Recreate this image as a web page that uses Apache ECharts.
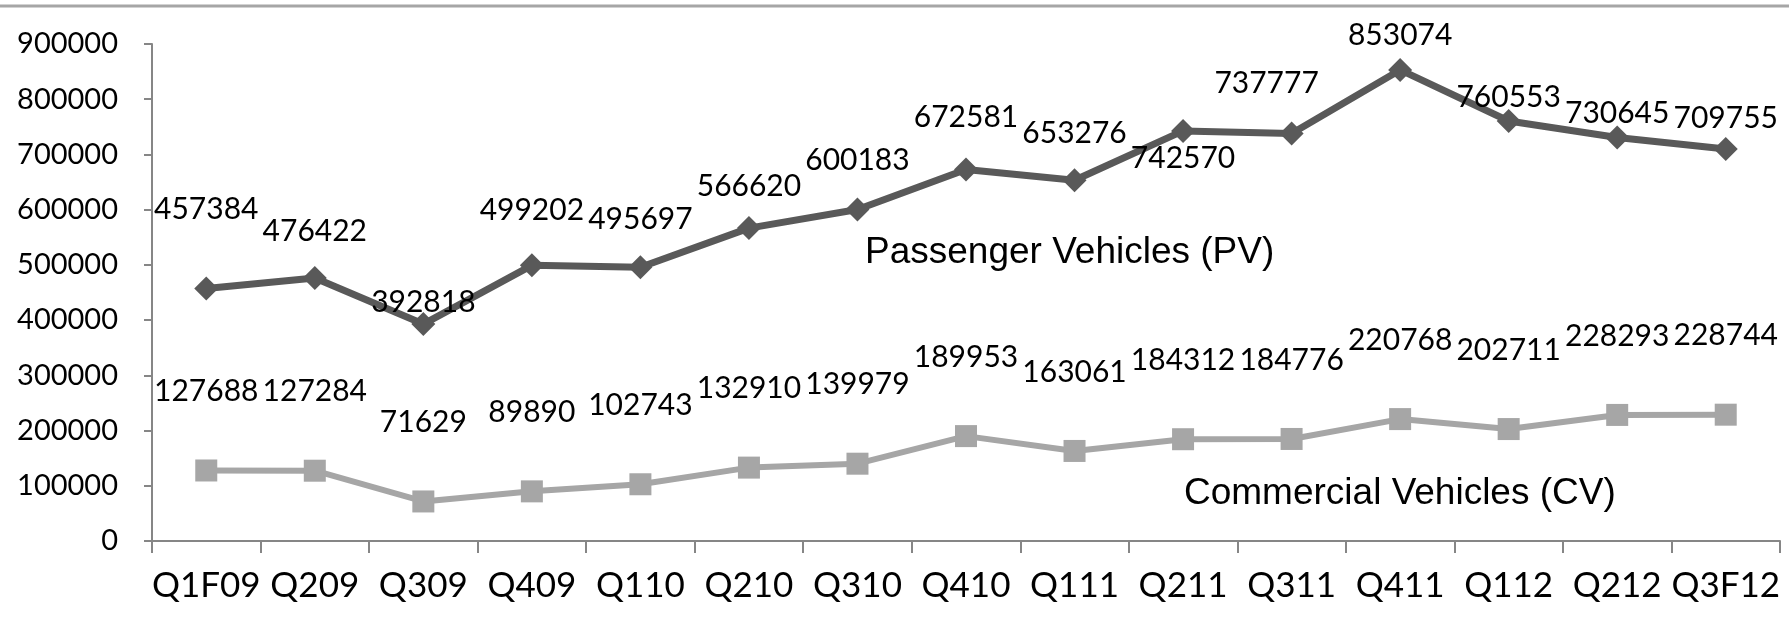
<!DOCTYPE html>
<html>
<head>
<meta charset="utf-8">
<script src="https://cdn.jsdelivr.net/npm/echarts@6/dist/echarts.min.js"></script>
<style>
  html, body { margin: 0; padding: 0; background: #fff; }
  #chart { width: 1789px; height: 625px; }
</style>
</head>
<body>
<div id="chart"></div>
<script>
// quarters on the x axis
const quarters = ['Q1F09', 'Q209', 'Q309', 'Q409', 'Q110', 'Q210', 'Q310', 'Q410',
  'Q111', 'Q211', 'Q311', 'Q411', 'Q112', 'Q212', 'Q3F12'];

// Passenger Vehicles (PV)
const pvSales = [457384, 476422, 392818, 499202, 495697, 566620, 600183, 672581,
  653276, 742570, 737777, 853074, 760553, 730645, 709755];

// Commercial Vehicles (CV)
const cvSales = [127688, 127284, 71629, 89890, 102743, 132910, 139979, 189953,
  163061, 184312, 184776, 220768, 202711, 228293, 228744];

const yTicks = [0, 100000, 200000, 300000, 400000, 500000, 600000, 700000, 800000, 900000];

const FONT = 'Lato, "Open Sans", sans-serif';

// label nudges, the PV labels were hand placed in the original
const pvLabelShift = [[0, -79], [0, -47], [0, -22], [0, -55], [0, -48], [0, -42], [0, -49],
  [0, -52], [0, -47], [0, 27], [-25, -50], [0, -35], [0, -24], [0, -24], [0, -31]];

const chart = echarts.init(document.getElementById('chart'));

const labelStyle = {
  show: true,
  position: 'inside',
  color: '#000',
  fontFamily: FONT,
  fontSize: 30
};

chart.setOption({
  animation: false,
  grid: { left: 152, right: 9, top: 44, bottom: 84, outerBoundsMode: 'none' },
  xAxis: {
    type: 'category',
    data: quarters,
    boundaryGap: true,
    axisLine: { lineStyle: { color: '#868686', width: 2 } },
    axisTick: { show: true, length: 12, lineStyle: { color: '#868686', width: 2 } },
    axisLabel: { color: '#000', fontFamily: FONT, fontSize: 35, margin: 27, interval: 0 }
  },
  yAxis: {
    type: 'value',
    min: yTicks[0],
    max: yTicks[yTicks.length - 1],
    interval: 100000,
    splitLine: { show: false },
    axisLine: { show: true, lineStyle: { color: '#868686', width: 2 } },
    axisTick: { show: true, length: 8, lineStyle: { color: '#868686', width: 2 } },
    axisLabel: {
      color: '#000', fontFamily: FONT, fontSize: 29, margin: 34,
      formatter: v => String(v)
    }
  },
  graphic: [
    {
      type: 'line',
      shape: { x1: 0, y1: 6, x2: 1789, y2: 6 },
      style: { stroke: '#a6a6a6', lineWidth: 3 }
    },
    {
      type: 'text',
      left: 865, top: 234,
      style: { text: 'Passenger Vehicles (PV)', fill: '#000', font: '37px "Liberation Sans", Arial, sans-serif' }
    },
    {
      type: 'text',
      left: 1184, top: 475,
      style: { text: 'Commercial Vehicles (CV)', fill: '#000', font: '37px "Liberation Sans", Arial, sans-serif' }
    }
  ],
  series: [
    {
      name: 'Passenger Vehicles (PV)',
      type: 'line',
      data: pvSales.map((v, i) => ({
        value: v,
        label: { offset: pvLabelShift[i] }
      })),
      symbol: 'diamond',
      symbolSize: 24,
      itemStyle: { color: '#595959' },
      lineStyle: { color: '#595959', width: 7 },
      label: labelStyle,
      z: 3
    },
    {
      name: 'Commercial Vehicles (CV)',
      type: 'line',
      data: cvSales,
      symbol: 'rect',
      symbolSize: 22,
      itemStyle: { color: '#a6a6a6' },
      lineStyle: { color: '#a6a6a6', width: 6 },
      label: Object.assign({}, labelStyle, { offset: [0, -79] }),
      z: 2
    }
  ]
});

window.addEventListener('resize', () => chart.resize());
</script>
</body>
</html>
